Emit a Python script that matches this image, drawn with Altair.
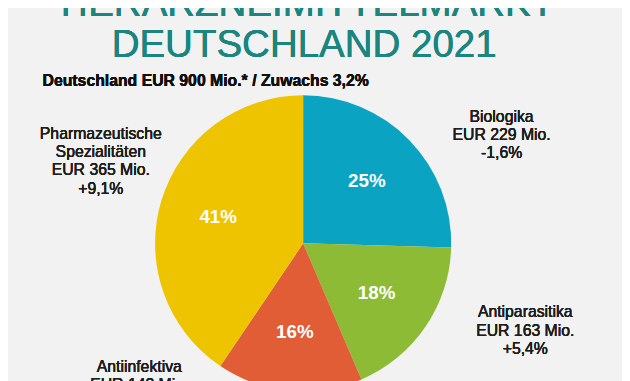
import altair as alt
import pandas as pd

# ---- data ----
categories = ["Biologika", "Antiparasitika", "Antiinfektiva", "Pharmazeutische Spezialitäten"]
values_mio = [229, 163, 143, 365]
shares = ["25%", "18%", "16%", "41%"]
changes = ["-1,6%", "+5,4%", "", "+9,1%"]
name_lines = [["Biologika"], ["Antiparasitika"], ["Antiinfektiva"], ["Pharmazeutische", "Spezialitäten"]]
colors = ["#0AA4C2", "#8DBB35", "#E05D35", "#EEC400"]

title_lines = ["TIERARZNEIMITTELMARKT", "DEUTSCHLAND 2021"]
subtitle = "Deutschland EUR 900 Mio.* / Zuwachs 3,2%"

# ---- layout (chart px = page px - 8) ----
W, H = 622, 373
CX, CY, R = 299, 236, 150
label_pos = {  # (x center, first baseline)
    "Biologika": (500, 113),
    "Antiparasitika": (524, 311),
    "Antiinfektiva": (133, 366),
    "Pharmazeutische Spezialitäten": (94, 130),
}
FONT = "Liberation Sans"

df = pd.DataFrame({
    "cat": categories,
    "value": values_mio,
    "share": shares,
    "order": list(range(len(categories))),
})

theta = alt.Theta("value:Q", stack=True)
order = alt.Order("order:Q")

arcs = alt.Chart(df).mark_arc(outerRadius=R).encode(
    theta=theta,
    order=order,
    color=alt.Color("cat:N", scale=alt.Scale(domain=categories, range=colors), legend=None),
    x=alt.value(CX), y=alt.value(CY),
)

pct = alt.Chart(df).mark_text(
    radius=90, font=FONT, fontSize=19, fontWeight="bold", color="white", baseline="middle"
).encode(
    theta=theta, order=order, text="share:N",
    x=alt.value(CX), y=alt.value(CY),
)

layers = [arcs, pct]

for i, cat in enumerate(categories):
    lines = list(name_lines[i]) + [f"EUR {values_mio[i]} Mio."]
    if changes[i]:
        lines.append(changes[i])
    x, y = label_pos[cat]
    layers.append(
        alt.Chart(df).mark_text(
            font=FONT, fontSize=16, color="#1E1E1E", align="center",
            baseline="alphabetic", lineHeight=18.5,
        ).encode(x=alt.value(x), y=alt.value(y), text=alt.value(lines))
    )

title_layer = alt.Chart(df).mark_text(
    font=FONT, fontSize=39, color="#1B8580", align="center", baseline="alphabetic", lineHeight=41
).encode(x=alt.value(300), y=alt.value(6), text=alt.value(title_lines))

sub_layer = alt.Chart(df).mark_text(
    font=FONT, fontSize=16, fontWeight="bold", color="#111111", align="left", baseline="alphabetic"
).encode(x=alt.value(35), y=alt.value(77), text=alt.value(subtitle))

layers += [title_layer, sub_layer]

chart = alt.layer(*layers).properties(
    width=W, height=H, background="#F2F2F2", padding=0,
    autosize=alt.AutoSizeParams(type="none"),
).configure_view(stroke=None)

chart.save("out.html", embed_options={"renderer": "svg", "actions": False})
